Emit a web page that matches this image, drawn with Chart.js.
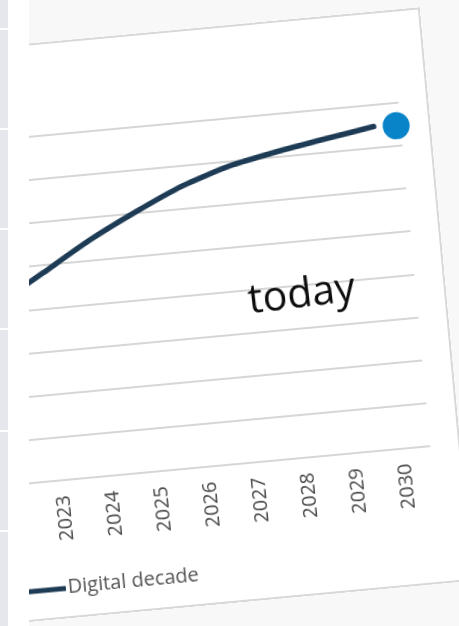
<!DOCTYPE html>
<html>
<head>
<meta charset="utf-8">
<script src="https://cdn.jsdelivr.net/npm/chart.js@4.4.1/dist/chart.umd.min.js"></script>
<style>
  html, body { margin: 0; padding: 0; width: 459px; height: 626px; overflow: hidden; background: #fff; }
  #side { position: absolute; left: 0; top: 0; width: 8px; height: 626px; background: #e6e7ec; }
  .sep { position: absolute; left: 0; width: 8px; height: 2px; background: #fff; }
  #clip { position: absolute; left: 29px; top: 0; width: 430px; height: 626px; overflow: hidden; background: #f8f8f8; }
  #card {
    position: absolute; left: -149px; top: 25.6px; width: 566px; height: 576px;
    background: #fff; box-shadow: inset 0 0 0 2px #d8d8d8;
    transform: rotate(-5.3deg); transform-origin: 350px 274.4px;
  }
  #card canvas { position: absolute; left: 0; top: 0; }
</style>
</head>
<body>
<div id="side"></div>
<div id="clip"><div id="card"><canvas id="chart" width="566" height="576"></canvas></div></div>
<script>
// data
const years = [2022, 2023, 2024, 2025, 2026, 2027, 2028, 2029, 2030];
const decadeValues = [41.8, 48.3, 54.8, 60.4, 65.4, 69.0, 71.3, 73.2, 75.0];
const targetYears = [2030.46];
const targetValues = [74.7];
const yTicks = [0, 10, 20, 30, 40, 50, 60, 70, 80];
const seriesLabel = 'Digital decade';
const noteText = 'today';
const notePos = [2028.22, 37.6];

// sidebar separators
[28, 128, 228, 328, 430, 530].forEach(y => {
  const d = document.createElement('div');
  d.className = 'sep';
  d.style.top = y + 'px';
  document.getElementById('side').appendChild(d);
});

const lineColor = '#1e3b55';

const noteLabel = {
  id: 'noteLabel',
  afterDatasetsDraw(chart) {
    const ctx = chart.ctx;
    const x = chart.scales.x.getPixelForValue(notePos[0]);
    const y = chart.scales.y.getPixelForValue(notePos[1]);
    ctx.save();
    ctx.translate(x, y);
    ctx.rotate(-1.7 * Math.PI / 180);
    ctx.font = '41px "Open Sans"';
    ctx.fillStyle = '#0d0d0d';
    ctx.textAlign = 'center';
    ctx.textBaseline = 'middle';
    ctx.fillText(noteText, 0, 0);
    ctx.restore();
  }
};

// legend drawn by hand so it sits where the original one does
const lineLegend = {
  id: 'lineLegend',
  afterDraw(chart) {
    const ctx = chart.ctx;
    const ds = chart.data.datasets[0];
    ctx.save();
    ctx.strokeStyle = ds.borderColor;
    ctx.lineWidth = 5;
    ctx.beginPath();
    ctx.moveTo(114, 546);
    ctx.lineTo(160, 546);
    ctx.stroke();
    ctx.font = '20px "Open Sans"';
    ctx.fillStyle = '#555';
    ctx.textBaseline = 'middle';
    ctx.fillText(ds.label, 162, 545);
    ctx.restore();
  }
};

new Chart(document.getElementById('chart'), {
  type: 'line',
  data: {
    datasets: [
      {
        label: seriesLabel,
        data: years.map((yr, i) => ({ x: yr, y: decadeValues[i] })),
        borderColor: lineColor,
        borderWidth: 5.5,
        pointRadius: 0,
        tension: 0.2,
        borderCapStyle: 'round',
        borderJoinStyle: 'round'
      },
      {
        label: 'target',
        data: targetYears.map((yr, i) => ({ x: yr, y: targetValues[i] })),
        showLine: false,
        pointRadius: 13.5,
        pointBackgroundColor: '#0a84c8',
        pointBorderWidth: 0,
        borderColor: '#0a84c8',
        clip: false
      }
    ]
  },
  options: {
    responsive: false,
    animation: false,
    layout: { padding: { left: 93, right: 30, top: 93, bottom: 68 } },
    plugins: { legend: { display: false }, tooltip: { enabled: false } },
    scales: {
      x: {
        type: 'linear',
        min: 2021.5,
        max: 2030.55,
        grid: { display: false, drawTicks: false },
        border: { display: false },
        afterBuildTicks: s => { s.ticks = years.map(v => ({ value: v })); },
        afterFit: s => { s.height = 70; },
        ticks: {
          minRotation: 90, maxRotation: 90, padding: 15, autoSkip: false,
          color: '#4a4a4a',
          font: { family: 'Open Sans', size: 20 },
          callback: v => String(v)
        }
      },
      y: {
        min: 0,
        max: 80,
        afterBuildTicks: s => { s.ticks = yTicks.map(v => ({ value: v })); },
        afterFit: s => { s.width = 0; },
        ticks: { display: false },
        border: { display: false },
        grid: { color: '#d6d6d6', lineWidth: 2, drawTicks: false }
      }
    }
  },
  plugins: [noteLabel, lineLegend]
});
</script>
</body>
</html>
